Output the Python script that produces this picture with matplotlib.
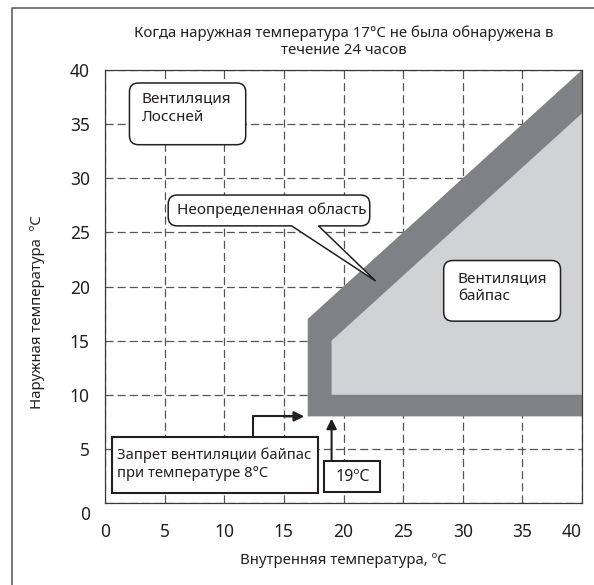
import matplotlib
matplotlib.use("Agg")
import matplotlib.pyplot as plt
from matplotlib.path import Path
from matplotlib.patches import PathPatch, Polygon, Rectangle
from matplotlib.lines import Line2D
from matplotlib.transforms import ScaledTranslation

plt.rcParams["font.family"] = ["Noto Sans", "DejaVu Sans"]

# Axis ticks
x_ticks = [0, 5, 10, 15, 20, 25, 30, 35, 40]
y_ticks = [0, 5, 10, 15, 20, 25, 30, 35, 40]

# Outline of the undetermined band (indoor temp, outdoor temp)
uncertain_x = [17, 17, 40, 40]
uncertain_y = [8, 17, 40, 8]

# Bypass ventilation zone
bypass_x = [19, 19, 40, 40]
bypass_y = [10, 15, 36, 10]

# Thresholds pointed at by the callouts
lockout_outdoor = 8      # °C, bypass prohibited below
lockout_indoor = 17
bypass_indoor = 19       # °C

title = "Когда наружная температура 17°C не была обнаружена в\nтечение 24 часов"
xlabel = "Внутренняя температура, ºC"
ylabel = "Наружная температура  ºC"

W, H = 594, 585
fig = plt.figure(figsize=(W / 100, H / 100), dpi=100)
ax_l, ax_r, ax_t, ax_b = 105, 582, 70, 503
ax = fig.add_axes([ax_l / W, (H - ax_b) / H, (ax_r - ax_l) / W, (ax_b - ax_t) / H])
ax.set_xlim(0, 40)
ax.set_ylim(0, 40)

# data units per pixel
ux = 40 / (ax_r - ax_l)
uy = 40 / (ax_b - ax_t)

ax.set_xticks(x_ticks)
ax.set_yticks(y_ticks)
ax.tick_params(length=0, labelsize=12.5, colors="#231f20")
ax.tick_params(axis="x", pad=14.5)
ax.tick_params(axis="y", pad=11)
ax.grid(True, color="#555555", linestyle=(0, (6.5, 3.2)), linewidth=0.9, zorder=0)
ax.set_axisbelow(True)
for sp in ax.spines.values():
    sp.set_color("#3a3a3a")
    sp.set_linewidth(0.9)
    sp.set_zorder(5)

# nudge corner tick labels away from each other
for lab in ax.get_yticklabels():
    if lab.get_text() == "0":
        lab.set_transform(lab.get_transform() + ScaledTranslation(0, -0.10, fig.dpi_scale_trans))
for lab in ax.get_xticklabels():
    if lab.get_text() == "40":
        lab.set_transform(lab.get_transform() + ScaledTranslation(-0.10, 0, fig.dpi_scale_trans))

# zones
ax.add_patch(Polygon(list(zip(uncertain_x, uncertain_y)), closed=True,
                     facecolor="#808184", edgecolor="none", zorder=2))
ax.add_patch(Polygon(list(zip(bypass_x, bypass_y)), closed=True,
                     facecolor="#d1d2d4", edgecolor="none", zorder=3))


def rounded_path(x0, y0, x1, y1, r_px, tail=None):
    rx, ry = r_px * ux, r_px * uy
    V = [(x0 + rx, y0)]
    C = [Path.MOVETO]
    if tail is not None:
        ta, tb, tip = tail
        V += [(ta, y0), tip, (tb, y0)]
        C += [Path.LINETO] * 3
    V += [(x1 - rx, y0)]; C += [Path.LINETO]
    V += [(x1, y0), (x1, y0 + ry)]; C += [Path.CURVE3] * 2
    V += [(x1, y1 - ry)]; C += [Path.LINETO]
    V += [(x1, y1), (x1 - rx, y1)]; C += [Path.CURVE3] * 2
    V += [(x0 + rx, y1)]; C += [Path.LINETO]
    V += [(x0, y1), (x0, y1 - ry)]; C += [Path.CURVE3] * 2
    V += [(x0, y0 + ry)]; C += [Path.LINETO]
    V += [(x0, y0), (x0 + rx, y0)]; C += [Path.CURVE3] * 2
    V += [(x0 + rx, y0)]; C += [Path.CLOSEPOLY]
    return Path(V, C)


txt_kw = dict(fontsize=11, color="#231f20", zorder=8)

# "Lossnay" ventilation label
ax.add_patch(PathPatch(rounded_path(2.05, 33.1, 11.8, 38.8, 9), facecolor="white",
                       edgecolor="#231f20", linewidth=1.1, zorder=6))
ax.text(3.1, 36.5, "Вентиляция\nЛоссней", ha="left", va="center", linespacing=1.3, **txt_kw)

# undetermined-area callout
ax.add_patch(PathPatch(rounded_path(5.3, 25.6, 22.2, 28.45, 9,
                                    tail=(15.65, 17.9, (22.7, 20.5))),
                       facecolor="white", edgecolor="#231f20", linewidth=1.1, zorder=6))
ax.text(6.0, 27.05, "Неопределенная область", ha="left", va="center", **txt_kw)

# bypass ventilation label
ax.add_patch(PathPatch(rounded_path(28.4, 16.8, 38.2, 22.4, 9), facecolor="white",
                       edgecolor="#231f20", linewidth=1.1, zorder=6))
ax.text(29.6, 19.9, "Вентиляция\nбайпас", ha="left", va="center", linespacing=1.2, **txt_kw)

# outdoor lockout callout
ax.add_patch(Rectangle((0.55, 0.95), 17.35, 5.15, facecolor="white",
                       edgecolor="#231f20", linewidth=1.5, zorder=6))
ax.text(1.0, 3.55, "Запрет вентиляции байпас\nпри температуре 8°C", ha="left", va="center",
        linespacing=1.25, fontsize=10.6, color="#231f20", zorder=8)
ax.plot([12.4, 12.4, 15.8], [6.1, lockout_outdoor, lockout_outdoor], color="#231f20",
        linewidth=1.5, zorder=7, solid_capstyle="butt")
ax.annotate("", xy=(lockout_indoor - 0.3, lockout_outdoor), xytext=(15.0, lockout_outdoor),
            arrowprops=dict(arrowstyle="-|>", color="#231f20", lw=1.5, mutation_scale=15,
                            shrinkA=0, shrinkB=0), zorder=7)

# indoor 19 °C callout
ax.add_patch(Rectangle((18.4, 1.0), 4.7, 2.9, facecolor="white",
                       edgecolor="#231f20", linewidth=1.5, zorder=6))
ax.text(20.75, 2.4, "19ºC", ha="center", va="center", fontsize=11.5, color="#231f20", zorder=8)
ax.annotate("", xy=(bypass_indoor, lockout_outdoor - 0.2), xytext=(bypass_indoor, 3.9),
            arrowprops=dict(arrowstyle="-|>", color="#231f20", lw=1.5, mutation_scale=15,
                            shrinkA=0, shrinkB=0), zorder=7)

# titles and axis labels
fig.text((ax_l + ax_r) / 2 / W, 1 - 41.5 / H, title, ha="center", va="center",
         fontsize=10.8, color="#231f20", linespacing=1.15)
ax.set_xlabel(xlabel, fontsize=10.8, color="#231f20", va="center")
ax.xaxis.set_label_coords(0.5, -(560 - ax_b) / (ax_b - ax_t))
ax.set_ylabel(ylabel, fontsize=10.8, color="#231f20", va="center")
ax.yaxis.set_label_coords((38 - ax_l) / (ax_r - ax_l), (ax_b - 312) / (ax_b - ax_t))

# outer frame
fig.add_artist(Line2D([12 / W, 12 / W, 1.0], [0.0, 1 - 8 / H, 1 - 8 / H],
                      transform=fig.transFigure, color="#555555", linewidth=1.1))

fig.savefig("out.png", dpi=100)
